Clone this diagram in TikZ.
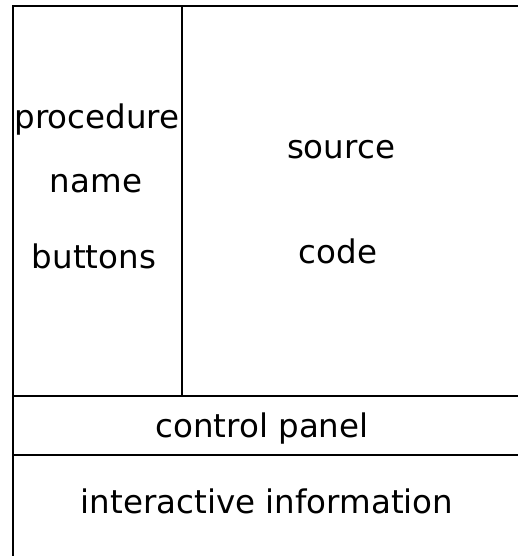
\documentclass[tikz,border=0pt]{standalone}
\usepackage{fontspec}
\setmainfont{DejaVu Sans}
\begin{document}
\begin{tikzpicture}[x=1pt,y=-1pt,
  frame/.style={line width=2.2pt,line cap=rect},
  lbl/.style={anchor=base,inner sep=0pt,font=\fontsize{32.5}{38}\selectfont}]
\useasboundingbox (0,0) rectangle (518,556);
% frame lines
\coordinate (tl) at (13,6);
\coordinate (tr) at (518,6);
\coordinate (bl) at (13,556);
\coordinate (dt) at (182,6);
\coordinate (db) at (182,396);
\coordinate (h1l) at (13,396);
\coordinate (h1r) at (518,396);
\coordinate (h2l) at (13,455);
\coordinate (h2r) at (518,455);
\draw[frame] (bl) -- (tl) -- (tr);
\draw[frame] (dt) -- (db);
\draw[frame] (h1l) -- (h1r);
\draw[frame] (h2l) -- (h2r);
% labels
\node[lbl] (proc) at (97,129) {procedure};
\node[lbl] (name) at (96,192) {name};
\node[lbl] (butt) at (94,268) {buttons};
\node[lbl] (src) at (341,158) {source};
\node[lbl] (code) at (338,263) {code};
\node[lbl] (ctrl) at (262,437) {control panel};
\node[lbl] (info) at (267,513) {interactive information};
\end{tikzpicture}
\end{document}
